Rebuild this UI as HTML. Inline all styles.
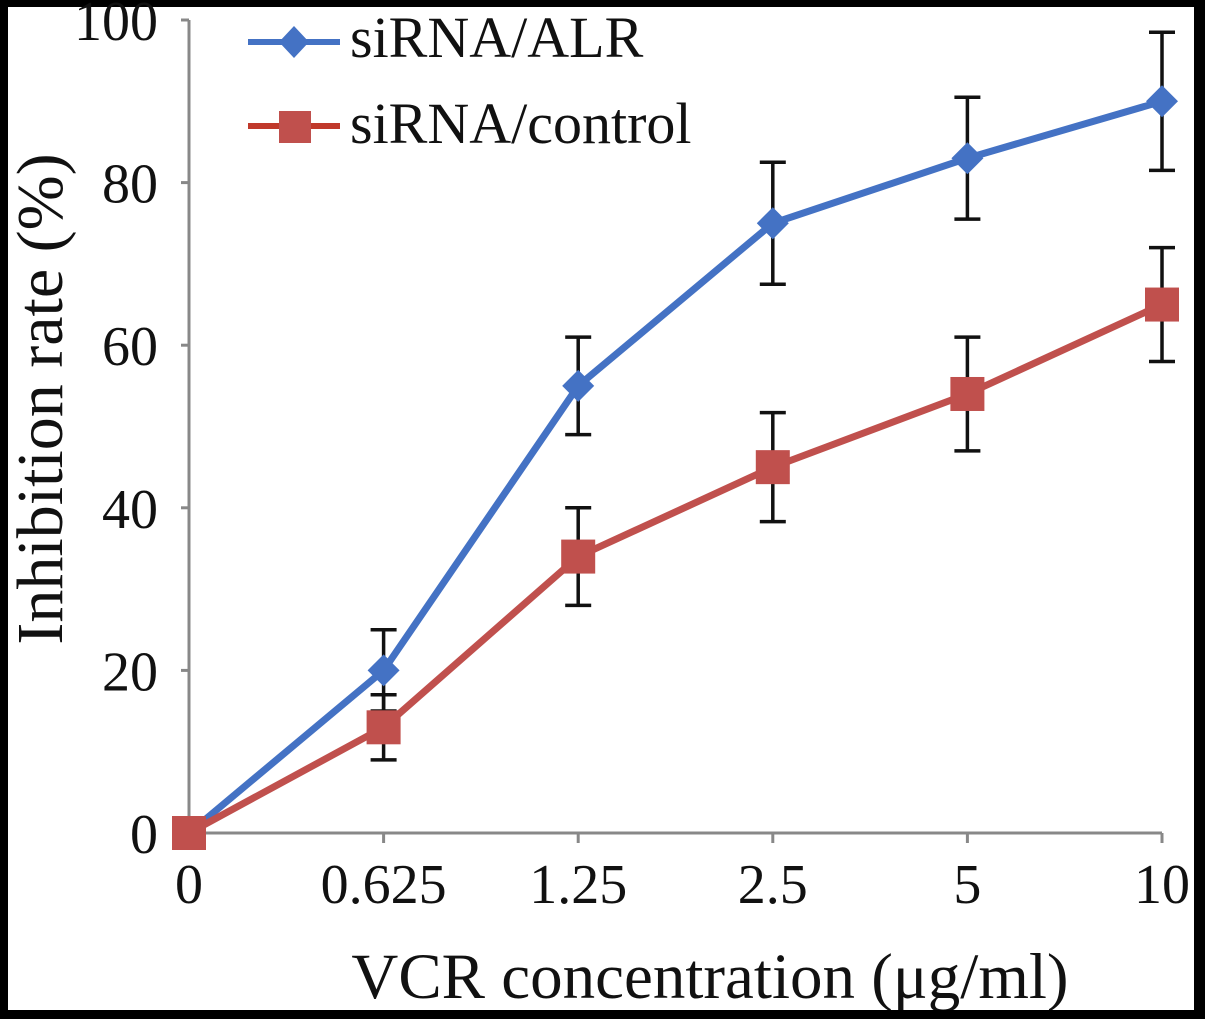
<!DOCTYPE html>
<html><head><meta charset="utf-8"><style>
html,body{margin:0;padding:0;background:#000;}
svg{display:block;}
text{font-family:"Liberation Serif",serif;fill:#111;}
</style></head><body>
<svg id="chart" width="1205" height="1019" viewBox="0 0 1205 1019" xmlns="http://www.w3.org/2000/svg">
<rect x="8" y="7" width="1186" height="1003" fill="#fff"/>
<g id="axes"></g>
<g id="series"></g>
<g id="legend">
  <g>
    <line x1="248" y1="42" x2="340" y2="42" stroke="#4472C4" stroke-width="6"/>
    <path d="M294 26 L309 42 L294 58 L279 42 Z" fill="#4472C4"/>
    <text x="350" y="57" font-size="58">siRNA/ALR</text>
  </g>
  <g>
    <line x1="248" y1="126" x2="340" y2="126" stroke="#C0392B" stroke-width="6"/>
    <rect x="279" y="111" width="32" height="32" fill="#C0504D"/>
    <text x="350" y="143" font-size="58">siRNA/control</text>
  </g>
</g>
<text x="62" y="399" font-size="66" text-anchor="middle" transform="rotate(-90 62 399)">Inhibition rate (%)</text>
<text x="710" y="998" font-size="65" text-anchor="middle">VCR concentration (μg/ml)</text>
<rect x="1194" y="0" width="11" height="1019" fill="#000"/>
<rect x="0" y="1010" width="1205" height="9" fill="#000"/>
</svg>
<script>
const categories = ["0","0.625","1.25","2.5","5","10"];
const alrValues = [0,20,55,75,83,90];
const alrErrors = [0,5,6,7.5,7.5,8.5];
const controlValues = [0,13,34,45,54,65];
const controlErrors = [0,4,6,6.7,7,7];
const yTicks = [0,20,40,60,80,100];

const NS="http://www.w3.org/2000/svg";
const x0=189, xStep=194.6, yZero=833, yTop=20;
function xScale(i){return x0+i*xStep;}
function yScale(v){return yZero-(yZero-yTop)*v/100;}
function mk(tag,attrs,parent){const e=document.createElementNS(NS,tag);for(const k in attrs)e.setAttribute(k,attrs[k]);parent.appendChild(e);return e;}

const axes=document.getElementById('axes');
const yAxis=mk('line',{x1:x0,y1:yTop,x2:x0,y2:yZero,stroke:'#888','stroke-width':3},axes);


const xAxis=mk('line',{x1:x0,y1:yZero,x2:xScale(categories.length-1),y2:yZero,stroke:'#888','stroke-width':3},axes);


yTicks.forEach(t=>{
  const y=yScale(t);
  const tk=mk('line',{x1:x0-8,y1:y,x2:x0,y2:y,stroke:'#888','stroke-width':3},axes);
  
  
  const tx=mk('text',{x:x0-31,y:y+20,'font-size':56,'text-anchor':'end'},axes);
  tx.textContent=t;
  
  
});
categories.forEach((c,i)=>{
  const x=xScale(i);
  const tk=mk('line',{x1:x,y1:yZero,x2:x,y2:yZero+10,stroke:'#888','stroke-width':3},axes);
  
  
  const tx=mk('text',{x:x,y:yZero+70,'font-size':56,'text-anchor':'middle'},axes);
  tx.textContent=c;
  
  
});

const series=document.getElementById('series');
function drawSeries(vals,errs,color,marker,name){
  const g=mk('g',{},series);
  
  
  const pts=vals.map((v,i)=>xScale(i)+','+yScale(v)).join(' ');
  const ln=mk('polyline',{points:pts,fill:'none',stroke:color,'stroke-width':7,'stroke-linejoin':'round'},g);
  
  
  vals.forEach((v,i)=>{
    const x=xScale(i);
    if(errs[i]>0){
      const yt=yScale(v+errs[i]),yb=yScale(v-errs[i]);
      const eb=mk('path',{d:`M${x},${yt}V${yb}M${x-13},${yt}H${x+13}M${x-13},${yb}H${x+13}`,stroke:'#111','stroke-width':3.5,fill:'none'},g);
      
      
    }
  });
  vals.forEach((v,i)=>{
    const x=xScale(i),y=yScale(v);
    let m;
    if(marker==='diamond') m=mk('path',{d:`M${x},${y-16}L${x+16},${y}L${x},${y+16}L${x-16},${y}Z`,fill:color},g);
    else m=mk('rect',{x:x-17,y:y-17,width:34,height:34,fill:color},g);
    
    
  });
}
drawSeries(alrValues,alrErrors,'#4472C4','diamond','sirna-alr');
drawSeries(controlValues,controlErrors,'#C0504D','square','sirna-control');
</script>
</body></html>
